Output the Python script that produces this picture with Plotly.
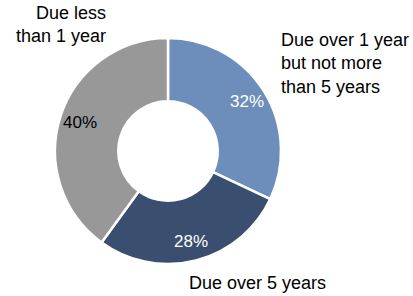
import math
import plotly.graph_objects as go

labels = ["Due over 1 year<br>but not more<br>than 5 years", "Due over 5 years", "Due less<br>than 1 year"]
values = [32, 28, 40]
colors = ["#6d8dba", "#3a4f6f", "#989898"]
pct_font_colors = ["white", "white", "black"]

W, H = 413, 296
cx, cy = 168, 151  # pixel center (from top)
R = 113

fig = go.Figure(go.Pie(
    values=values,
    labels=labels,
    hole=0.44,
    sort=False,
    direction="clockwise",
    rotation=0,
    marker=dict(colors=colors, line=dict(color="white", width=2.5)),
    textinfo="none",
    showlegend=False,
    domain=dict(x=[(cx - R) / W, (cx + R) / W], y=[(H - cy - R) / H, (H - cy + R) / H]),
))

annotations = []
total = sum(values)
cum = 0
rlab = 93
for v, fc in zip(values, pct_font_colors):
    mid = (cum + v / 2) / total * 2 * math.pi
    cum += v
    px = cx + rlab * math.sin(mid)
    py = cy - rlab * math.cos(mid)
    annotations.append(dict(
        x=px / W, y=1 - py / H, xref="paper", yref="paper",
        text=f"{round(v / total * 100)}%", showarrow=False,
        font=dict(size=17, color=fc, family="Liberation Sans, Arial, sans-serif"),
        xanchor="center", yanchor="middle",
    ))

lab_font = dict(size=18, color="black", family="Liberation Sans, Arial, sans-serif")
annotations.append(dict(x=279 / W, y=1 - 63 / H, xref="paper", yref="paper", text=labels[0],
                        showarrow=False, xanchor="left", yanchor="middle", align="left", font=lab_font))
annotations.append(dict(x=257 / W, y=1 - 283 / H, xref="paper", yref="paper", text=labels[1],
                        showarrow=False, xanchor="center", yanchor="middle", align="center", font=lab_font))
annotations.append(dict(x=108 / W, y=1 - 25 / H, xref="paper", yref="paper", text=labels[2],
                        showarrow=False, xanchor="right", yanchor="middle", align="right", font=lab_font))

fig.update_layout(
    width=W, height=H,
    margin=dict(l=0, r=0, t=0, b=0),
    paper_bgcolor="white", plot_bgcolor="white",
    annotations=annotations,
)

fig.write_html("out.html", config={"displayModeBar": False},
               post_script="document.body.style.margin='0';document.body.style.padding='0';")
